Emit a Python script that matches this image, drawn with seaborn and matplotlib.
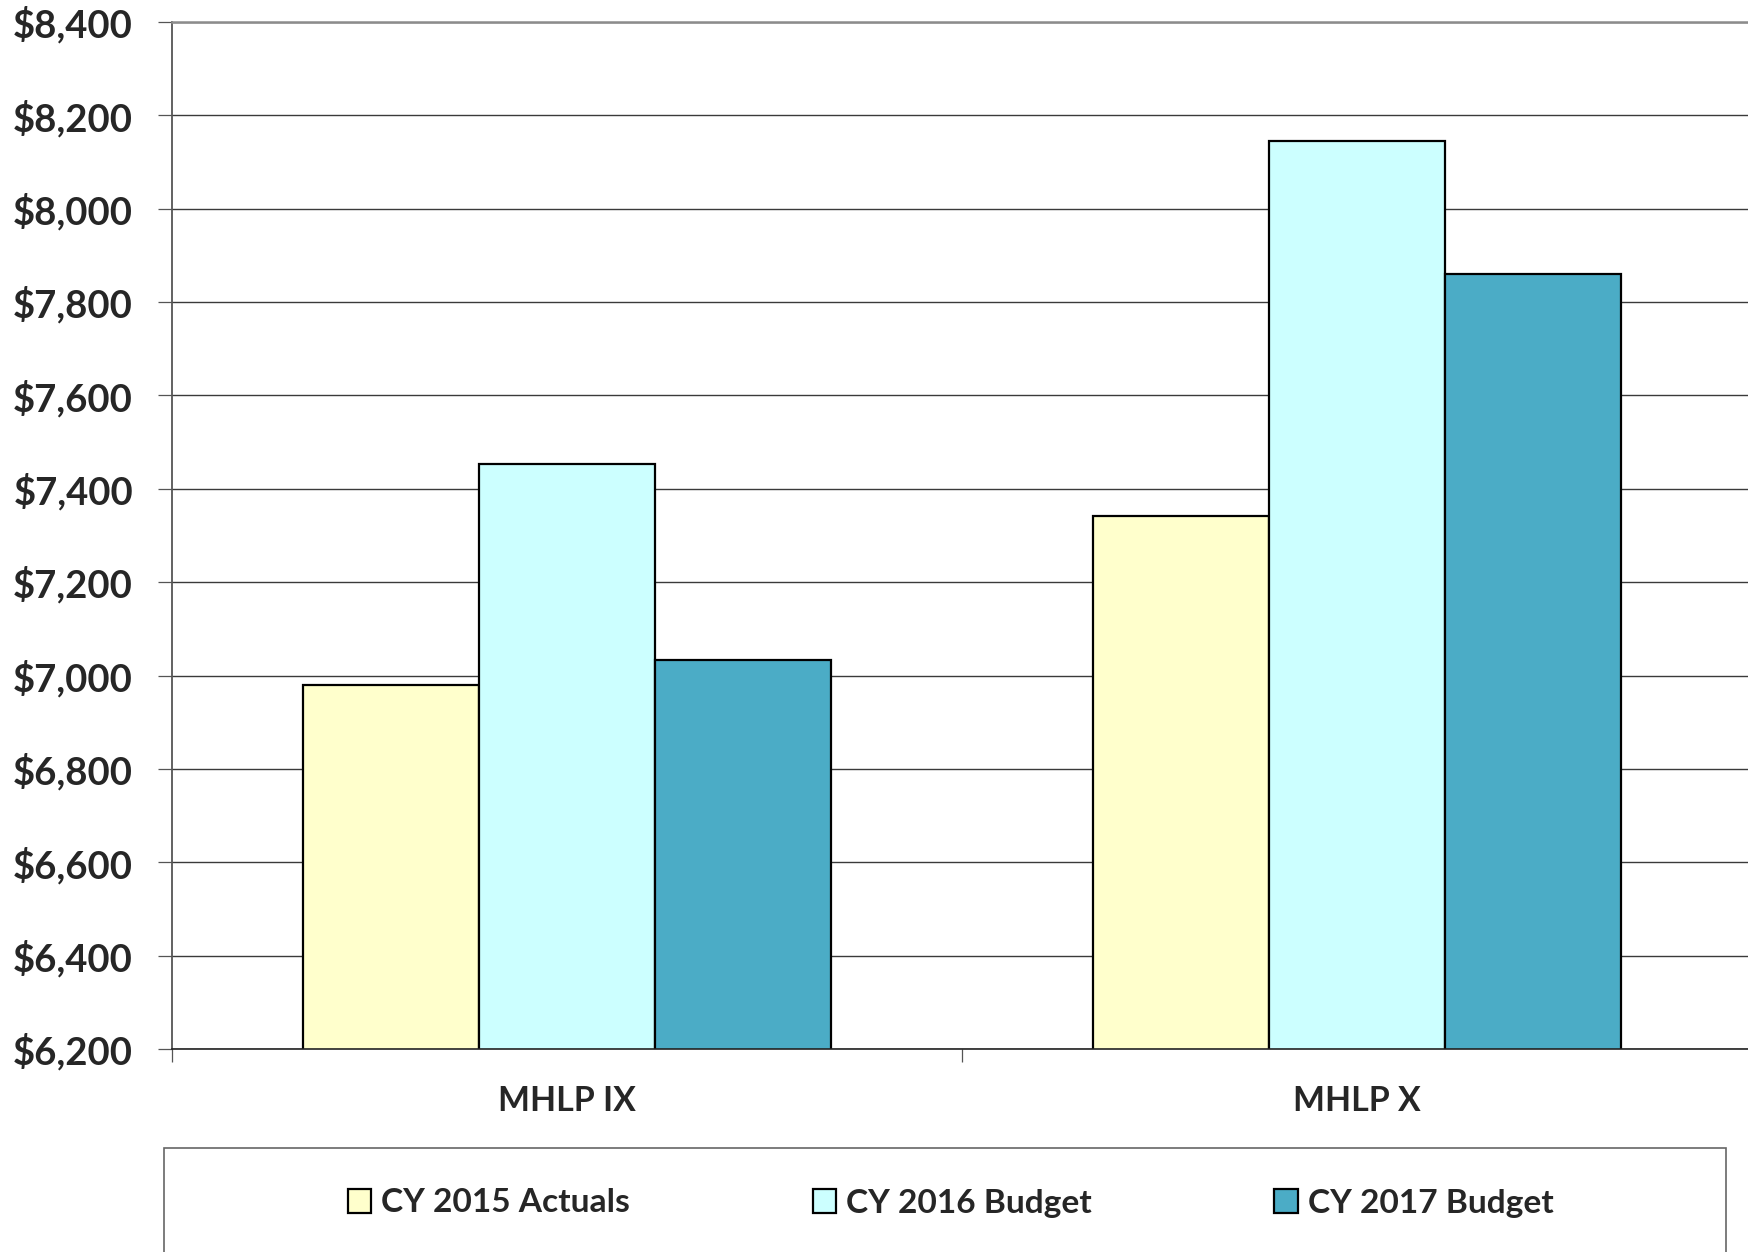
import matplotlib
matplotlib.use("Agg")
import matplotlib.pyplot as plt
import seaborn as sns
import pandas as pd
from matplotlib.patches import Rectangle
from matplotlib.ticker import FuncFormatter, FixedLocator

categories = ["MHLP IX", "MHLP X"]
series = ["CY 2015 Actuals", "CY 2016 Budget", "CY 2017 Budget"]
actuals_2015 = [6980, 7342]
budget_2016 = [7453, 8146]
budget_2017 = [7034, 7860]
colors = ["#FFFFCC", "#CCFFFF", "#4BACC6"]
yticks = [6200, 6400, 6600, 6800, 7000, 7200, 7400, 7600, 7800, 8000, 8200, 8400]

rows = []
for s, vals in zip(series, [actuals_2015, budget_2016, budget_2017]):
    for c, v in zip(categories, vals):
        rows.append({"Plan": c, "Series": s, "Value": v})
df = pd.DataFrame(rows)

sns.set_theme(style="white")
plt.rcParams["font.family"] = ["Lato", "DejaVu Sans"]
WEIGHT = "bold"
plt.rcParams["font.weight"] = WEIGHT

W, H = 1748, 1252
fig = plt.figure(figsize=(W / 100, H / 100), dpi=100)
ax = fig.add_axes([172 / W, 1 - 1049 / H, (1752 - 172) / W, (1049 - 22) / H])

sns.barplot(data=df, x="Plan", y="Value", hue="Series", hue_order=series,
            order=categories, palette=colors, width=0.668, edgecolor="black",
            linewidth=1.6, saturation=1, ax=ax, legend=False)

ax.set_ylim(6200, 8400)
ax.set_xlim(-0.5, 1.5)
ax.yaxis.set_major_locator(FixedLocator(yticks))
ax.yaxis.set_major_formatter(FuncFormatter(lambda v, p: f"${v:,.0f}"))
ax.set_axisbelow(True)
ax.grid(axis="y", color="#3a3a3a", linewidth=1.0)
ax.grid(axis="x", visible=False)

ax.set_xticks([-0.5, 0.5, 1.5])
ax.set_xticklabels(["", "", ""])
ax.set_xticks([0, 1], minor=True)
ax.set_xticklabels(categories, minor=True, fontsize=24.4, fontweight=WEIGHT)
ax.tick_params(axis="x", which="major", length=9, width=0.9, color="#555555", direction="out", bottom=True)
ax.tick_params(axis="x", which="minor", length=0, pad=26, bottom=True)
ax.tick_params(axis="y", which="major", length=10, width=0.9, color="#555555", direction="out",
               left=True, pad=18, labelsize=27.5)
for lab in ax.get_yticklabels():
    lab.set_fontweight(WEIGHT)
ax.set_xlabel("")
ax.set_ylabel("")

ax.spines["right"].set_visible(False)
ax.spines["top"].set_color("#8c8c8c")
ax.spines["top"].set_linewidth(1.8)
ax.spines["left"].set_color("#555555")
ax.spines["left"].set_linewidth(1.3)
ax.spines["bottom"].set_color("#222222")
ax.spines["bottom"].set_linewidth(1.2)

# legend frame
fig.patches.append(Rectangle((164 / W, -0.05), (1726 - 164) / W, 0.05 + 1 - 1148 / H,
                             transform=fig.transFigure, fill=False, edgecolor="#666666",
                             linewidth=1.2))
handles = [Rectangle((0, 0), 1, 1, facecolor=c, edgecolor="black", linewidth=1.6) for c in colors]
fig.legend(handles, series, loc="center left", bbox_to_anchor=(348 / W, 1 - 1203 / H),
           ncol=3, frameon=False, handlelength=0.7, handleheight=0.7,
           handletextpad=0.3, columnspacing=5.45, borderaxespad=0, borderpad=0,
           prop={"weight": WEIGHT, "size": 24.1})

fig.savefig("out.png", dpi=100)
